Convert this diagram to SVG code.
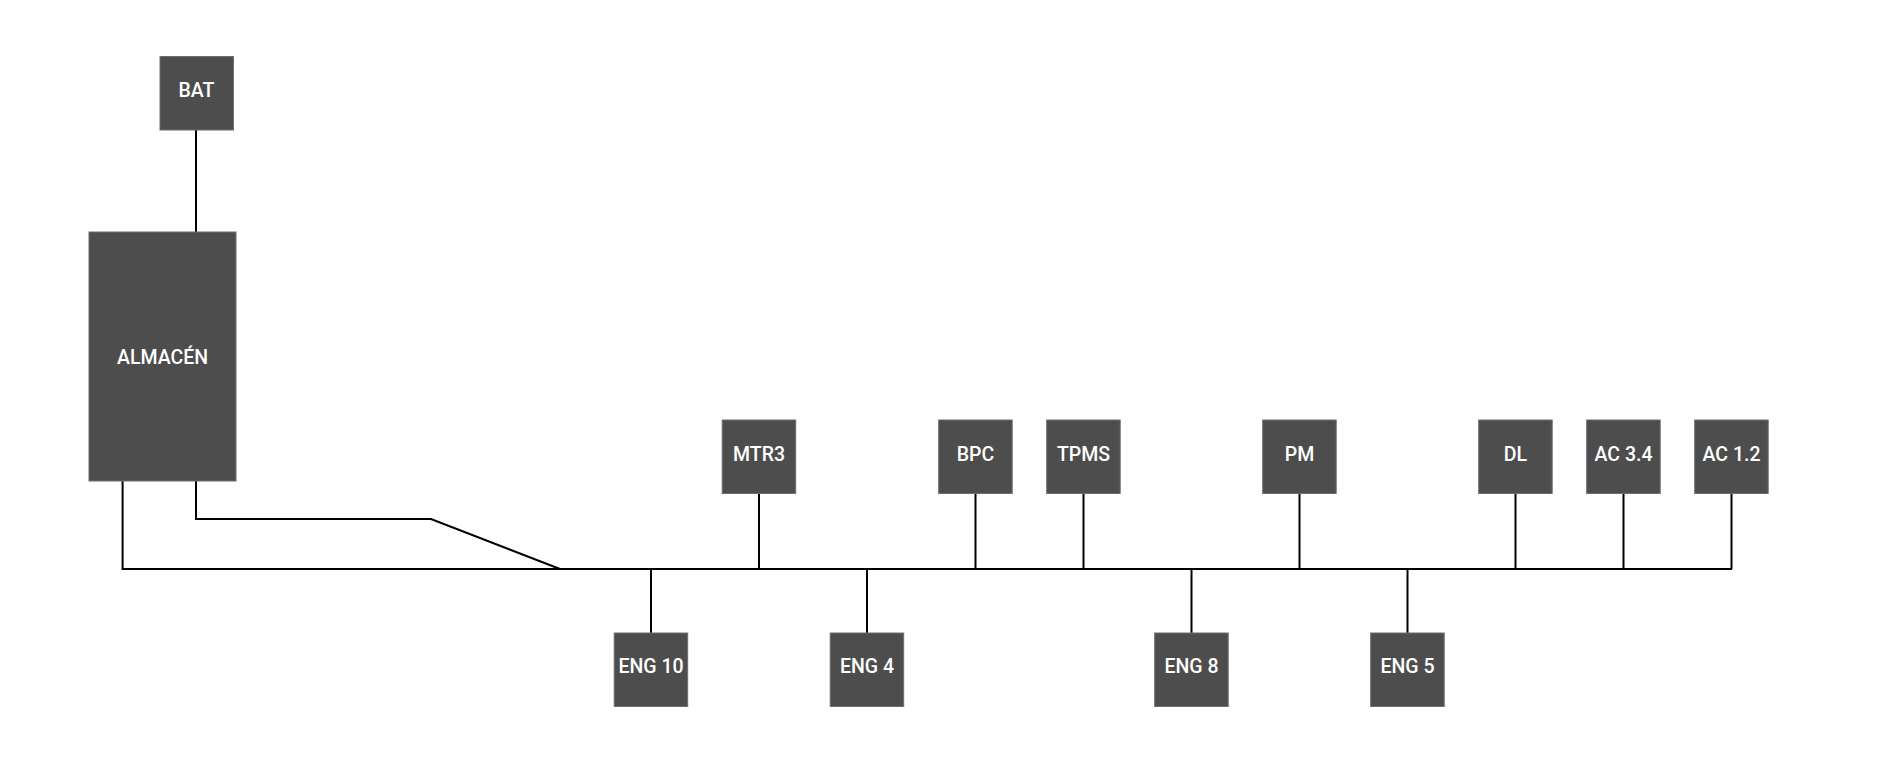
<svg xmlns="http://www.w3.org/2000/svg" width="1884" height="757" viewBox="0 0 1884 757">
<style>
.n{fill:#4d4d4d;stroke:#6e6e6e;stroke-width:1}
.t{fill:#ffffff;font-family:Roboto,"Liberation Sans",sans-serif;font-size:19.5px;font-weight:500;text-anchor:middle}
.c{fill:none;stroke:#000000;stroke-width:2}
</style>
<rect width="1884" height="757" fill="#ffffff"/>
<g id="connectors">
<path class="c" d="M196,130V232"/>
<path class="c" d="M122.6,481V569H1732"/>
<path class="c" d="M196,481V519H431L560,569"/>
<path class="c" d="M651,569V633"/>
<path class="c" d="M759,493.5V569"/>
<path class="c" d="M867,569V633"/>
<path class="c" d="M975.5,493.5V569"/>
<path class="c" d="M1083.5,493.5V569"/>
<path class="c" d="M1191.5,569V633"/>
<path class="c" d="M1299.5,493.5V569"/>
<path class="c" d="M1407.5,569V633"/>
<path class="c" d="M1515.5,493.5V569"/>
<path class="c" d="M1623.5,493.5V569"/>
<path class="c" d="M1731.5,493.5V569"/>
</g>
<g id="bat"><rect class="n" x="160" y="56.5" width="73.5" height="73.5"/><text class="t" x="196.5" y="97">BAT</text></g>
<g id="almacen"><rect class="n" x="89" y="232" width="147" height="249"/><text class="t" x="162.5" y="364">ALMACÉN</text></g>
<g id="mtr3"><rect class="n" x="722.2" y="420" width="73.5" height="73.5"/><text class="t" x="759" y="461">MTR3</text></g>
<g id="bpc"><rect class="n" x="938.7" y="420" width="73.5" height="73.5"/><text class="t" x="975.5" y="461">BPC</text></g>
<g id="tpms"><rect class="n" x="1046.7" y="420" width="73.5" height="73.5"/><text class="t" x="1083.5" y="461">TPMS</text></g>
<g id="pm"><rect class="n" x="1262.7" y="420" width="73.5" height="73.5"/><text class="t" x="1299.5" y="461">PM</text></g>
<g id="dl"><rect class="n" x="1478.7" y="420" width="73.5" height="73.5"/><text class="t" x="1515.5" y="461">DL</text></g>
<g id="ac34"><rect class="n" x="1586.7" y="420" width="73.5" height="73.5"/><text class="t" x="1623.5" y="461">AC 3.4</text></g>
<g id="ac12"><rect class="n" x="1694.7" y="420" width="73.5" height="73.5"/><text class="t" x="1731.5" y="461">AC 1.2</text></g>
<g id="eng10"><rect class="n" x="614.2" y="633" width="73.5" height="73.5"/><text class="t" x="651" y="673">ENG 10</text></g>
<g id="eng4"><rect class="n" x="830.2" y="633" width="73.5" height="73.5"/><text class="t" x="867" y="673">ENG 4</text></g>
<g id="eng8"><rect class="n" x="1154.7" y="633" width="73.5" height="73.5"/><text class="t" x="1191.5" y="673">ENG 8</text></g>
<g id="eng5"><rect class="n" x="1370.7" y="633" width="73.5" height="73.5"/><text class="t" x="1407.5" y="673">ENG 5</text></g>
</svg>
